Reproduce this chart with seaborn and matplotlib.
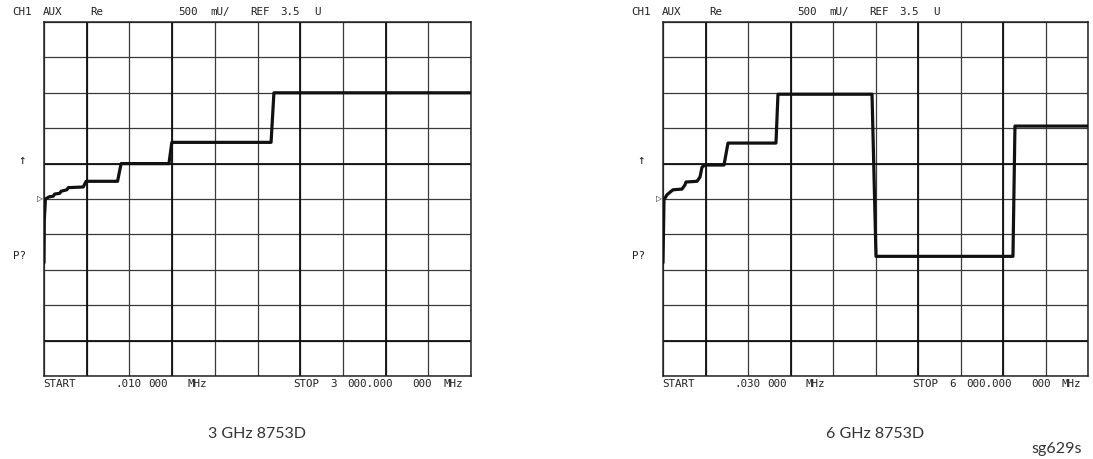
import numpy as np
import pandas as pd
import matplotlib.pyplot as plt
import seaborn as sns

freq_3g = [10, 12, 20, 45, 75, 85, 120, 130, 170, 180, 285, 305,
           525, 550, 885, 905, 1600, 1620, 3000]
val_3g = [2.10, 2.70, 3.00, 3.03, 3.04, 3.07, 3.08, 3.11, 3.13, 3.16,
          3.17, 3.25, 3.25, 3.50, 3.50, 3.80, 3.80, 4.50, 4.50]

freq_6g = [30, 44, 86, 170, 297, 339, 353, 508, 550, 578, 620, 887,
           943, 1617, 1645, 2966, 3022, 4946, 4974, 6000]
val_6g = [2.10, 2.99, 3.06, 3.13, 3.14, 3.20, 3.24, 3.25, 3.31, 3.45,
          3.48, 3.48, 3.79, 3.79, 4.48, 4.48, 2.19, 2.19, 4.03, 4.03]

header_tokens = ["CH1", "AUX", "Re", "500", "mU/", "REF", "3.5", "U"]
start_tokens_3g = ["START", ".010", "000", "MHz"]
start_tokens_6g = ["START", ".030", "000", "MHz"]
stop_tokens_3g = ["STOP", "3", "000.000", "000", "MHz"]
stop_tokens_6g = ["STOP", "6", "000.000", "000", "MHz"]
captions = ["3 GHz 8753D", "6 GHz 8753D"]

REF_VALUE = 3.5
SCALE = 0.5  # U per division

sns.set_theme(style="white")
plt.rcParams["font.family"] = ["DejaVu Sans"]

W, H = 1093, 459
fig = plt.figure(figsize=(W / 100, H / 100), dpi=100)

mono = "DejaVu Sans Mono"
TXT = "#222222"


def px_text(x, y, s, **kw):
    fig.text(x / W, 1 - y / H, s, **kw)


def draw_panel(left_px, right_px, freq, vals, start_tokens, stop_tokens, caption):
    top_px, bot_px = 22, 376
    ax = fig.add_axes([left_px / W, 1 - bot_px / H,
                       (right_px - left_px) / W, (bot_px - top_px) / H])
    df = pd.DataFrame({"freq": freq, "val": vals})
    sns.lineplot(data=df, x="freq", y="val", ax=ax, color="#111111",
                 lw=2.3, sort=False, estimator=None, zorder=5)
    f0, f1 = freq[0], freq[-1]
    ax.set_xlim(f0, f1)
    lo = REF_VALUE - 6 * SCALE
    ax.set_ylim(lo, lo + 10 * SCALE)
    ax.set_xticks(np.linspace(f0, f1, 11))
    ax.set_yticks(np.arange(lo, lo + 10 * SCALE + 0.01, SCALE))
    ax.grid(True, color="#3a3a3a", lw=0.9)
    for v in (REF_VALUE, lo + SCALE):
        ax.axhline(v, color="#111111", lw=1.3, zorder=1)
    for k in (1, 3, 6, 8):
        ax.axvline(f0 + k * (f1 - f0) / 10, color="#111111", lw=1.3, zorder=1)
    ax.tick_params(length=0, labelbottom=False, labelleft=False)
    ax.set_xlabel("")
    ax.set_ylabel("")
    for sp in ax.spines.values():
        sp.set_color("#222222")
        sp.set_linewidth(1.1)

    # header line
    hdr_off = [-32, -1, 46, 134, 166, 206, 236, 270]
    for tok, dx in zip(header_tokens, hdr_off):
        px_text(left_px + dx, 12, tok, family=mono, fontsize=7.8, va="center",
                color=TXT)
    # start / stop annotations
    for tok, dx in zip(start_tokens, [-1, 71, 104, 143]):
        px_text(left_px + dx, 384, tok, family=mono, fontsize=7.8, va="center",
                color=TXT)
    for tok, dx in zip(stop_tokens, [249, 286, 303, 368, 399]):
        px_text(left_px + dx, 384, tok, family=mono, fontsize=7.8, va="center",
                color=TXT)
    # reference arrow, marker and status
    px_text(left_px - 22, 160, "\u2191", family=mono, fontsize=9,
            ha="center", va="center", color=TXT)
    px_text(left_px - 25, 256, "P?", family=mono, fontsize=7.8,
            ha="center", va="center", color=TXT)
    px_text(left_px - 1, 199, "\u25b7", family="DejaVu Sans", fontsize=5.5,
            ha="right", va="center", color="#111111")
    # caption
    px_text((left_px + right_px) / 2, 434, caption, family="Lato",
            fontsize=11.5, ha="center", va="center", color="#333333")
    return ax


draw_panel(44, 471, freq_3g, val_3g, start_tokens_3g, stop_tokens_3g, captions[0])
draw_panel(663, 1088, freq_6g, val_6g, start_tokens_6g, stop_tokens_6g, captions[1])

px_text(1057, 449, "sg629s", family="Lato", fontsize=11.5, ha="center",
        va="center", color="#333333")

fig.savefig("out.png", dpi=100, facecolor="white")
